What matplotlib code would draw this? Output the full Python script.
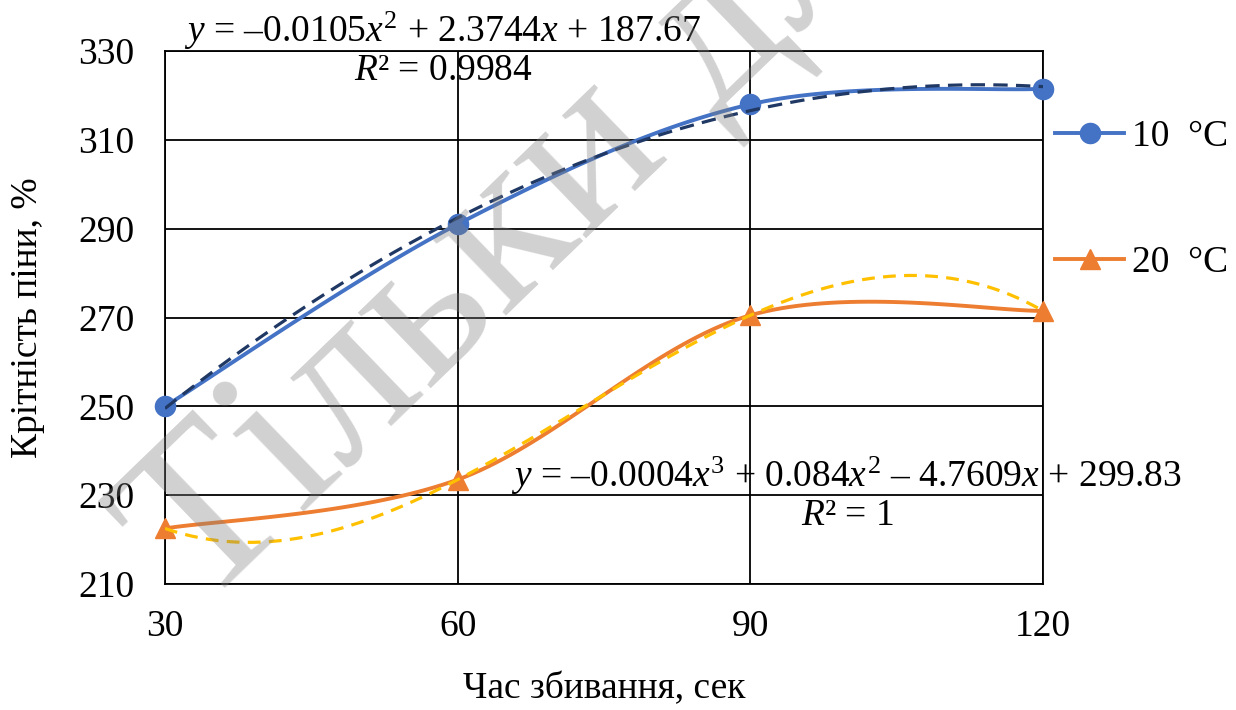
import numpy as np
import matplotlib
matplotlib.use("Agg")
import matplotlib.pyplot as plt

plt.rcParams['font.family'] = ['Liberation Serif', 'DejaVu Serif']
plt.rcParams['mathtext.fontset'] = 'custom'
plt.rcParams['mathtext.rm'] = 'Liberation Serif'
plt.rcParams['mathtext.it'] = 'Liberation Serif:italic'

# data
time_s = [30, 60, 90, 120]
foam_10 = [250.0, 291.0, 318.0, 321.5]
foam_20 = [222.5, 233.5, 270.5, 271.5]
series_labels = ['10  °C', '20  °C']
y_ticks = [210, 230, 250, 270, 290, 310, 330]
x_ticks = [30, 60, 90, 120]
eq_10 = r'$y$ = –0.0105$x^{2}$ + 2.3744$x$ + 187.67'
r2_10 = r'$R$² = 0.9984'
eq_20 = r'$y$ = –0.0004$x^{3}$ + 0.084$x^{2}$ – 4.7609$x$ + 299.83'
r2_20 = r'$R$² = 1'


def smooth(xs, ys, n=40):
    # Excel-like smoothed line: cubic bezier with catmull-rom control points
    pts = np.column_stack([xs, ys]).astype(float)
    padded = np.vstack([pts[0], pts, pts[-1]])
    out = []
    t = np.linspace(0, 1, n)[:, None]
    for i in range(len(pts) - 1):
        p0, p1, p2, p3 = padded[i], padded[i + 1], padded[i + 2], padded[i + 3]
        c1 = p1 + (p2 - p0) / 6
        c2 = p2 - (p3 - p1) / 6
        seg = ((1 - t) ** 3) * p1 + 3 * ((1 - t) ** 2) * t * c1 + 3 * (1 - t) * t ** 2 * c2 + t ** 3 * p2
        out.append(seg if i == 0 else seg[1:])
    out = np.vstack(out)
    return out[:, 0], out[:, 1]


fig = plt.figure(figsize=(12.36, 7.10), dpi=100)
ax = fig.add_axes([165 / 1236, 1 - 584 / 710, (1043 - 165) / 1236, (584 - 51) / 710])

blue = '#4472C4'
orange = '#ED7D31'
fs = 27

sx, sy = smooth(time_s, foam_10)
ax.plot(sx, sy, color=blue, lw=2.8, zorder=3, solid_capstyle='round')
ax.plot(time_s, foam_10, color=blue, marker='o', ms=14.5, linestyle='none',
        zorder=4, clip_on=False)

sx, sy = smooth(time_s, foam_20)
ax.plot(sx, sy, color=orange, lw=2.8, zorder=3, solid_capstyle='round')
ax.plot(time_s, foam_20, color=orange, marker='^', ms=15, linestyle='none',
        zorder=4, clip_on=False)

# trendlines
xx = np.linspace(time_s[0], time_s[-1], 300)
c10 = np.polyfit(time_s, foam_10, 2)
ax.plot(xx, np.polyval(c10, xx), color='#203864', lw=2.3, dashes=(4.5, 2.6), zorder=5)
c20 = np.polyfit(time_s, foam_20, 3)
ax.plot(xx, np.polyval(c20, xx), color='#FFC000', lw=2.3, dashes=(4.0, 2.6), zorder=5)

ax.set_xlim(30, 120)
ax.set_ylim(210, 330)
ax.set_xticks(x_ticks)
ax.set_yticks(y_ticks)
ax.grid(True, color='black', lw=1.3)
ax.set_axisbelow(True)
for s in ax.spines.values():
    s.set_color('black')
    s.set_linewidth(1.3)
ax.tick_params(length=0, labelsize=fs, pad=22)
ax.tick_params(axis='x', pad=18)

ax.set_xlabel('Час збивання, сек', fontsize=fs, labelpad=20)
ax.set_ylabel('Крітність піни, %', fontsize=fs, labelpad=24)

ax.text(58.5, 334.6, eq_10, fontsize=fs, ha='center', va='center', clip_on=False, zorder=6)
ax.text(58.5, 325.6, r2_10, fontsize=fs, ha='center', va='center', clip_on=False, zorder=6)
ax.text(99.9, 234.3, eq_20, fontsize=fs, ha='center', va='center', clip_on=False, zorder=6)
ax.text(99.9, 225.3, r2_20, fontsize=fs, ha='center', va='center', clip_on=False, zorder=6)

leg_blue = plt.Line2D([], [], color=blue, lw=2.8, marker='o', ms=14.5)
leg_orange = plt.Line2D([], [], color=orange, lw=2.8, marker='^', ms=15)
ax.legend([leg_blue, leg_orange], series_labels, loc='center left',
          bbox_to_anchor=(1055 / 1236, 1 - 200 / 710), bbox_transform=fig.transFigure,
          frameon=False, fontsize=fs, handlelength=1.85, handletextpad=0.2,
          labelspacing=2.45, borderpad=0, borderaxespad=0)

# watermark
fig.text(200 / 1236, 1 - 612 / 710, 'Тільки для ознайомлення', fontsize=165,
         rotation=44, rotation_mode='anchor', ha='left', va='baseline',
         color='#808080', alpha=0.36, zorder=10)

fig.savefig('out.png', dpi=100)
